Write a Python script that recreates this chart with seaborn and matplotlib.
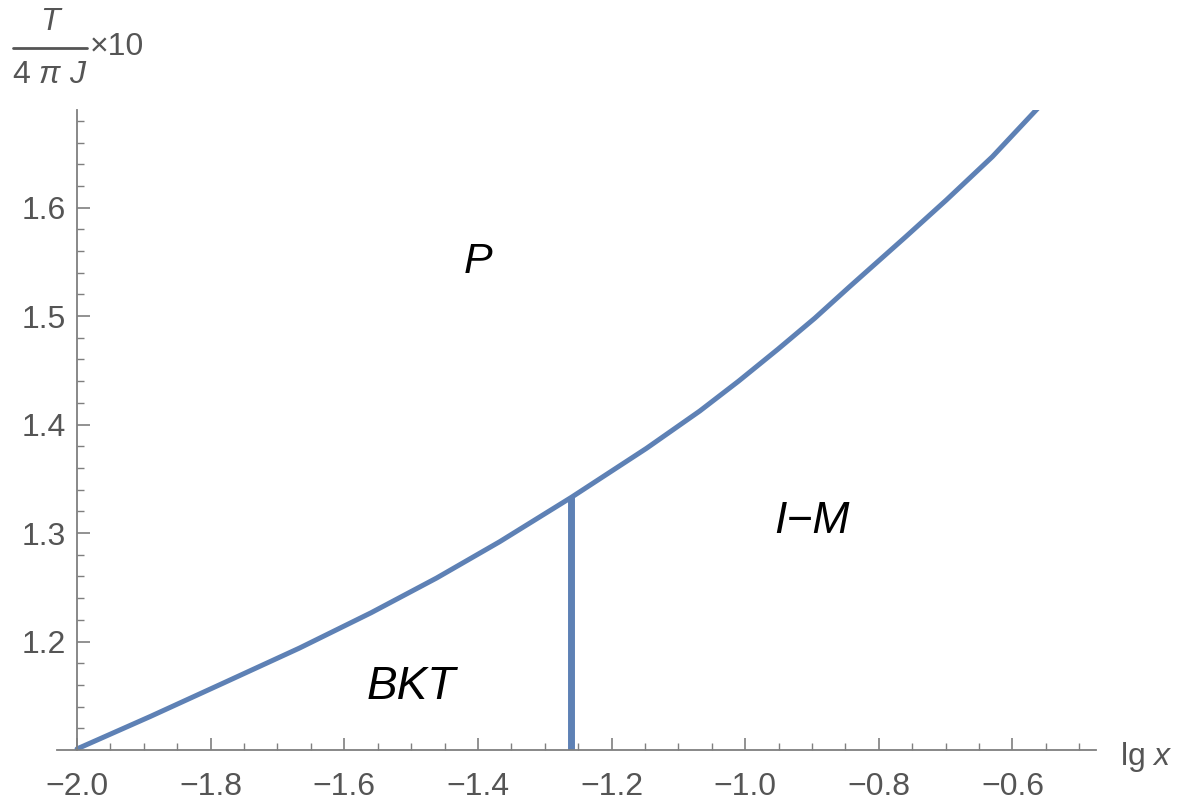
import numpy as np
import pandas as pd
import matplotlib
matplotlib.use('Agg')
import matplotlib.pyplot as plt
from matplotlib.lines import Line2D
import seaborn as sns

# Phase boundary (lg x vs T/(4 pi J) x 10)
lg_x = [-2.0, -1.89, -1.78, -1.667, -1.56, -1.462, -1.3675, -1.26,
        -1.148, -1.068, -1.01, -0.951, -0.896, -0.844, -0.76, -0.699, -0.63, -0.56]
t_scaled = [1.101, 1.131, 1.162, 1.194, 1.2265, 1.2585, 1.292, 1.333,
            1.378, 1.4125, 1.440, 1.4695, 1.498, 1.527, 1.573, 1.607, 1.647, 1.693]

# BKT / I-M boundary (vertical)
bkt_x = [-1.26, -1.26]
bkt_y = [1.10, 1.333]

region_labels = ['P', 'BKT', 'I\u2212M']
region_x = [-1.40, -1.50, -0.90]
region_y = [1.55, 1.158, 1.311]

x_ticks = [-2.0, -1.8, -1.6, -1.4, -1.2, -1.0, -0.8, -0.6]
y_ticks = [1.2, 1.3, 1.4, 1.5, 1.6]

line_color = '#5e81b5'
axis_color = '#7f7f7f'
text_gray = '#555555'

sns.set_style('ticks')
plt.rcParams['font.family'] = ['Liberation Sans', 'DejaVu Sans']
plt.rcParams['mathtext.fontset'] = 'custom'
plt.rcParams['mathtext.rm'] = 'Liberation Sans'
plt.rcParams['mathtext.it'] = 'Liberation Sans:italic'

W, H = 1191, 805
fig = plt.figure(figsize=(W / 100, H / 100), dpi=100)
ax = fig.add_axes([57 / W, 1 - 750 / H, (1096 - 57) / W, (750 - 110) / H])

curve = pd.DataFrame({'lg_x': lg_x, 'T': t_scaled})
sns.lineplot(data=curve, x='lg_x', y='T', ax=ax, color=line_color, linewidth=3.6,
             sort=False, estimator=None)
vert = pd.DataFrame({'lg_x': bkt_x, 'T': bkt_y})
sns.lineplot(data=vert, x='lg_x', y='T', ax=ax, color=line_color, linewidth=5,
             sort=False, estimator=None, solid_capstyle='butt')

ax.set_xlim(-2.03, -0.475)
ax.set_ylim(1.10, 1.69)

for side in ['top', 'right']:
    ax.spines[side].set_visible(False)
for side in ['left', 'bottom']:
    ax.spines[side].set_color(axis_color)
    ax.spines[side].set_linewidth(1.3)
ax.spines['left'].set_position(('data', -2.0))

ax.set_xticks(x_ticks, labels=[f'{t:.1f}'.replace('-', '\u2212') for t in x_ticks])
ax.set_yticks(y_ticks, labels=[f'{t:.1f}' for t in y_ticks])
ax.set_xticks(np.arange(-1.95, -0.49, 0.05), minor=True)
ax.set_yticks(np.arange(1.12, 1.69, 0.02), minor=True)
ax.tick_params(axis='both', which='major', direction='in', length=9, width=1.2,
               color=axis_color, labelcolor=text_gray, labelsize=23,
               bottom=True, left=True)
ax.tick_params(axis='both', which='minor', direction='in', length=5, width=1.0,
               color=axis_color, bottom=True, left=True)
ax.tick_params(axis='x', which='major', pad=16)
ax.tick_params(axis='y', which='major', pad=8)
ax.set_xlabel('')
ax.set_ylabel('')

sizes = [31, 33, 32]
for lab, xx, yy, fs in zip(region_labels, region_x, region_y, sizes):
    ax.text(xx, yy, lab, fontsize=fs, style='italic', color='black',
            ha='center', va='center')

# axis labels
fig.text(1120 / W, 1 - 757 / H, r'lg $\mathit{x}$', fontsize=23,
         color=text_gray, ha='left', va='center')
fig.text(50 / W, 1 - 22 / H, 'T', fontsize=23, style='italic',
         color=text_gray, ha='center', va='center')
fig.add_artist(Line2D([13 / W, 87 / W], [1 - 48 / H, 1 - 48 / H],
                      transform=fig.transFigure, color=text_gray, linewidth=2))
fig.text(50 / W, 1 - 75 / H, r'4 $\mathit{\pi}$ $\mathit{J}$', fontsize=23,
         color=text_gray, ha='center', va='center')
fig.text(90 / W, 1 - 47 / H, '\u00d710', fontsize=23,
         color=text_gray, ha='left', va='center')

fig.savefig('out.png', dpi=100, facecolor='white')
